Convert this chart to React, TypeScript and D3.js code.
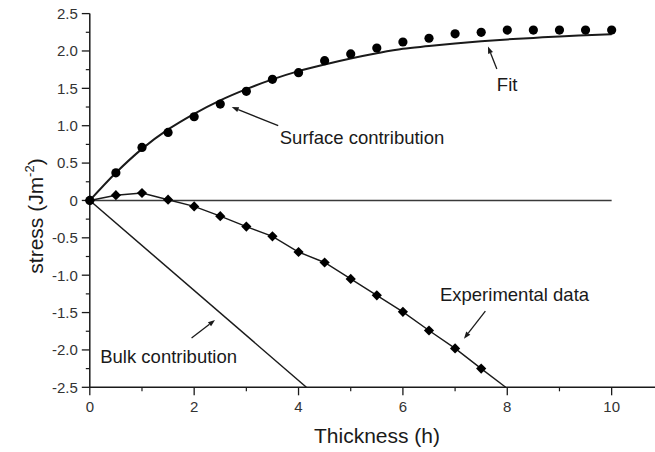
import React from "react";
import * as d3 from "d3";

// Surface contribution (circles)
const surfaceThickness = [0, 0.5, 1, 1.5, 2, 2.5, 3, 3.5, 4, 4.5, 5, 5.5, 6, 6.5, 7, 7.5, 8, 8.5, 9, 9.5, 10];
const surfaceStress = [0, 0.37, 0.71, 0.91, 1.12, 1.29, 1.46, 1.62, 1.71, 1.87, 1.96, 2.04, 2.12, 2.17, 2.23, 2.25, 2.28, 2.28, 2.28, 2.28, 2.28];

// Fit curve through the surface points
const fitThickness = surfaceThickness;
const fitStress = [0, 0.37, 0.69, 0.95, 1.16, 1.34, 1.49, 1.62, 1.73, 1.82, 1.9, 1.97, 2.03, 2.065, 2.1, 2.13, 2.155, 2.175, 2.195, 2.21, 2.225];

// Experimental data (diamonds)
const expThickness = [0, 0.5, 1, 1.5, 2, 2.5, 3, 3.5, 4, 4.5, 5, 5.5, 6, 6.5, 7, 7.5];
const expStress = [0, 0.07, 0.1, 0.01, -0.08, -0.21, -0.35, -0.48, -0.69, -0.83, -1.05, -1.27, -1.49, -1.74, -1.98, -2.25];
// the experimental line runs on past the last marker down to the axis
const expTailThickness = [7.5, 7.97];
const expTailStress = [-2.25, -2.5];

// Bulk contribution and zero line
const bulkThickness = [0, 4.15];
const bulkStress = [0, -2.5];
const zeroThickness = [0, 10];
const zeroStress = [0, 0];

const xMajorTicks = [0, 2, 4, 6, 8, 10];
const xMinorTicks = [1, 3, 5, 7, 9];
const yMajorTicks = [2.5, 2, 1.5, 1, 0.5, 0, -0.5, -1, -1.5, -2, -2.5];
const yMinorTicks = [2.25, 1.75, 1.25, 0.75, 0.25, -0.25, -0.75, -1.25, -1.75, -2.25];

// annotations: label position and arrow (from -> to, head at "to"), in data units
const notes = [
  { text: "Fit", tx: 7.8, ty: 1.46, x1: 7.8, y1: 1.76, x2: 7.63, y2: 2.06 },
  { text: "Surface contribution", tx: 3.64, ty: 0.76, x1: 3.61, y1: 1.0, x2: 2.72, y2: 1.25 },
  { text: "Experimental data", tx: 6.71, ty: -1.34, x1: 7.58, y1: -1.48, x2: 7.17, y2: -1.85 },
  { text: "Bulk contribution", tx: 0.2, ty: -2.17, x1: 1.95, y1: -1.84, x2: 2.4, y2: -1.6 },
];

const W = 655;
const H = 452;
const font = "Arial, 'Liberation Sans', Helvetica, sans-serif";
const ink = "#1a1a1a";

const x = d3.scaleLinear().domain([0, 10.85]).range([89.8, 656]);
const y = d3.scaleLinear().domain([-2.5, 2.5]).range([387.3, 13.6]);

const pair = (xs: number[], ys: number[]) => xs.map((v, i) => [v, ys[i]] as [number, number]);

const line = d3
  .line<[number, number]>()
  .x((d) => x(d[0]))
  .y((d) => y(d[1]));

const fitLine = d3
  .line<[number, number]>()
  .x((d) => x(d[0]))
  .y((d) => y(d[1]))
  .curve(d3.curveMonotoneX);

const fmtY = (v: number) => (v === 0 ? "0" : v.toFixed(1));

const Arrow: React.FC<{ x1: number; y1: number; x2: number; y2: number }> = ({ x1, y1, x2, y2 }) => {
  const ax = x(x1), ay = y(y1), bx = x(x2), by = y(y2);
  const ang = Math.atan2(by - ay, bx - ax);
  const len = 7, half = 2.6;
  const px = bx - len * Math.cos(ang), py = by - len * Math.sin(ang);
  const head = [
    [bx, by],
    [px + half * Math.sin(ang), py - half * Math.cos(ang)],
    [px - half * Math.sin(ang), py + half * Math.cos(ang)],
  ];
  return (
    <g>
      <line x1={ax} y1={ay} x2={px} y2={py} stroke={ink} strokeWidth={1.3} />
      <polygon points={head.map((p) => p.join(",")).join(" ")} fill={ink} />
    </g>
  );
};

export default function App() {
  // square turned 45 degrees, so the diamond is as wide as it is tall
  const diamond = d3.symbol().type(d3.symbolSquare).size(52)();
  const yBottom = y(-2.5);
  const xLeft = x(0);
  return (
    <div style={{ position: "absolute", left: 0, top: 0 }}>
      <svg width={W} height={H} style={{ display: "block", background: "#fff" }} fontFamily={font}>
        <defs>
          <clipPath id="plot">
            <rect x={xLeft} y={0} width={W - xLeft} height={yBottom} />
          </clipPath>
        </defs>

        {/* axes */}
        <line x1={xLeft} y1={y(2.5)} x2={xLeft} y2={yBottom} stroke={ink} strokeWidth={1.5} />
        <line x1={xLeft} y1={yBottom} x2={x(10.85)} y2={yBottom} stroke={ink} strokeWidth={1.5} />
        {yMajorTicks.map((t) => (
          <g key={"ym" + t}>
            <line x1={xLeft - 8} x2={xLeft} y1={y(t)} y2={y(t)} stroke={ink} strokeWidth={1.3} />
            <text x={xLeft - 12} y={y(t)} dy="0.36em" textAnchor="end" fontSize={15} fill="#333">
              {fmtY(t)}
            </text>
          </g>
        ))}
        {yMinorTicks.map((t) => (
          <line key={"yn" + t} x1={xLeft - 4} x2={xLeft} y1={y(t)} y2={y(t)} stroke={ink} strokeWidth={1.2} />
        ))}
        {xMajorTicks.map((t) => (
          <g key={"xm" + t}>
            <line x1={x(t)} x2={x(t)} y1={yBottom} y2={yBottom + 8} stroke={ink} strokeWidth={1.3} />
            <text x={x(t)} y={411.5} textAnchor="middle" fontSize={15} fill="#333">
              {t}
            </text>
          </g>
        ))}
        {xMinorTicks.map((t) => (
          <line key={"xn" + t} x1={x(t)} x2={x(t)} y1={yBottom} y2={yBottom + 4} stroke={ink} strokeWidth={1.2} />
        ))}

        {/* axis titles */}
        <text x={377} y={443} textAnchor="middle" fontSize={21} fill={ink}>
          Thickness (h)
        </text>
        <text transform="translate(43,216) rotate(-90)" textAnchor="middle" fontSize={21} fill={ink}>
          stress (Jm
          <tspan fontSize={13} dy={-9}>-2</tspan>
          <tspan dy={9}>)</tspan>
        </text>

        {/* lines */}
        <g clipPath="url(#plot)" fill="none">
          <path d={line(pair(zeroThickness, zeroStress)) ?? ""} stroke="#3a3a3a" strokeWidth={1.6} />
          <path d={line(pair(bulkThickness, bulkStress)) ?? ""} stroke={ink} strokeWidth={1.5} />
          <path d={fitLine(pair(fitThickness, fitStress)) ?? ""} stroke={ink} strokeWidth={2} />
          <path d={line(pair(expThickness, expStress)) ?? ""} stroke={ink} strokeWidth={1.4} />
          <path d={line(pair(expTailThickness, expTailStress)) ?? ""} stroke={ink} strokeWidth={1.4} />
        </g>

        {/* markers */}
        {surfaceThickness.map((t, i) => (
          <circle key={"s" + i} cx={x(t)} cy={y(surfaceStress[i])} r={4.6} fill="#000" />
        ))}
        {expThickness.map((t, i) => (
          <path
            key={"e" + i}
            d={diamond ?? ""}
            transform={`translate(${x(t)},${y(expStress[i])}) rotate(45)`}
            fill="#000"
          />
        ))}

        {/* annotations */}
        {notes.map((n) => (
          <g key={n.text}>
            <Arrow x1={n.x1} y1={n.y1} x2={n.x2} y2={n.y2} />
            <text x={x(n.tx)} y={y(n.ty)} fontSize={18.5} fill={ink}>
              {n.text}
            </text>
          </g>
        ))}
      </svg>
    </div>
  );
}
